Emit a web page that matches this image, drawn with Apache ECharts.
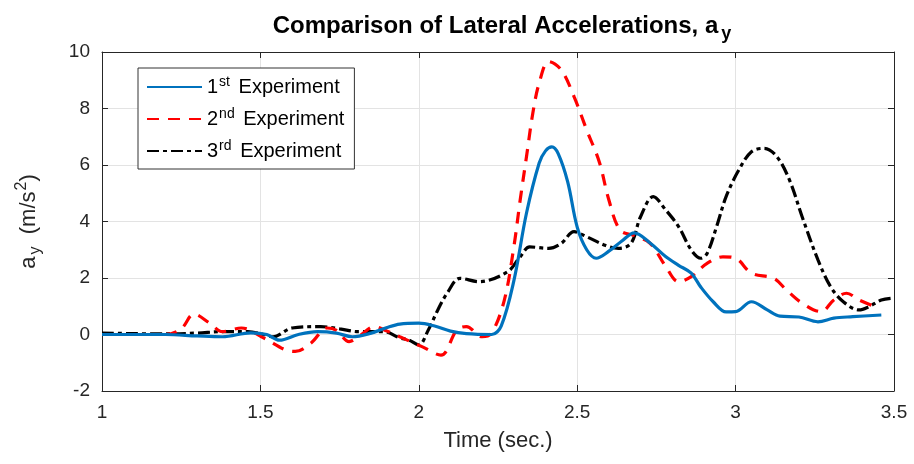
<!DOCTYPE html>
<html style="height: 100%">
<head>
  <meta charset="utf-8">
  <title>Lateral accelerations</title>
  <script src="https://cdn.jsdelivr.net/npm/echarts@6.0.0/dist/echarts.min.js"></script>
</head>
<body style="margin:0;height:100%;background:#fff">
  <div id="main" style="width:914px;height:464px"></div>
  <script>
    // values
    var exp1Time = [1.0, 1.2, 1.3, 1.38, 1.47, 1.52, 1.56, 1.62, 1.68, 1.74, 1.79, 1.85, 1.9, 1.94, 2.0, 2.05, 2.1, 2.15, 2.23, 2.26, 2.3, 2.34, 2.38, 2.4, 2.42, 2.44, 2.47, 2.5, 2.53, 2.56, 2.6, 2.64, 2.68, 2.73, 2.78, 2.82, 2.86, 2.89, 2.93, 2.97, 3.0, 3.05, 3.1, 3.14, 3.2, 3.26, 3.31, 3.37, 3.46];
    var exp1Acc = [0, 0, -0.05, -0.08, 0.06, 0, -0.2, 0, 0.1, 0.05, -0.08, 0.05, 0.25, 0.37, 0.4, 0.3, 0.12, 0.03, 0, 0.3, 1.9, 4.3, 6.07, 6.5, 6.64, 6.4, 5.4, 3.8, 3.0, 2.7, 2.95, 3.3, 3.6, 3.24, 2.75, 2.45, 2.17, 1.68, 1.15, 0.8, 0.81, 1.16, 0.87, 0.65, 0.62, 0.45, 0.58, 0.63, 0.69];

    var exp2Time = [1.0, 1.2, 1.25, 1.29, 1.34, 1.38, 1.44, 1.51, 1.58, 1.61, 1.66, 1.71, 1.74, 1.78, 1.81, 1.86, 1.9, 1.94, 2.01, 2.07, 2.12, 2.15, 2.2, 2.23, 2.27, 2.3, 2.32, 2.34, 2.36, 2.38, 2.41, 2.45, 2.49, 2.53, 2.57, 2.6, 2.635, 2.68, 2.73, 2.78, 2.82, 2.86, 2.91, 2.96, 3.0, 3.05, 3.12, 3.16, 3.21, 3.27, 3.31, 3.35, 3.39, 3.45];
    var exp2Acc = [0, 0, 0.2, 0.72, 0.4, 0.1, 0.23, -0.12, -0.55, -0.6, -0.3, 0.23, 0.15, -0.25, -0.08, 0.28, 0.12, -0.08, -0.43, -0.73, 0.16, 0.28, -0.08, 0.05, 1.22, 3.1, 4.76, 6.3, 7.84, 8.9, 9.66, 9.36, 8.42, 7.24, 6.1, 4.76, 3.7, 3.5, 3.23, 2.4, 1.87, 2.05, 2.52, 2.75, 2.7, 2.17, 1.99, 1.58, 1.11, 0.81, 1.22, 1.46, 1.22, 0.94];

    var exp3Time = [1.0, 1.2, 1.3, 1.38, 1.46, 1.51, 1.54, 1.6, 1.69, 1.75, 1.81, 1.89, 1.94, 1.97, 2.0, 2.03, 2.06, 2.09, 2.13, 2.19, 2.28, 2.32, 2.35, 2.41, 2.45, 2.49, 2.53, 2.59, 2.63, 2.67, 2.7, 2.74, 2.78, 2.82, 2.86, 2.89, 2.91, 2.94, 2.97, 3.01, 3.05, 3.09, 3.13, 3.17, 3.21, 3.26, 3.3, 3.34, 3.39, 3.42, 3.46, 3.5];
    var exp3Acc = [0.05, 0.02, 0.05, 0.1, 0.1, 0, -0.08, 0.23, 0.28, 0.2, 0.1, 0.1, -0.12, -0.2, -0.37, 0.16, 0.87, 1.47, 1.99, 1.87, 2.22, 2.75, 3.1, 3.05, 3.23, 3.64, 3.46, 3.15, 3.05, 3.23, 4.17, 4.88, 4.4, 3.82, 2.99, 2.7, 2.87, 3.82, 4.88, 5.82, 6.47, 6.59, 6.3, 5.47, 4.17, 2.64, 1.69, 1.16, 0.87, 0.98, 1.22, 1.29];

    var seriesNames = ['1{sup|st} Experiment', '2{sup|nd} Experiment', '3{sup|rd} Experiment'];
    var seriesColors = ['#0072BD', '#FF0000', '#000000'];
    var seriesDash = ['solid', [12, 9], [12, 4, 4, 4]];

    function pairs(t, v) {
      return t.map(function (x, i) { return [x, v[i]]; });
    }
    var allData = [pairs(exp1Time, exp1Acc), pairs(exp2Time, exp2Acc), pairs(exp3Time, exp3Acc)];

    var font = '"Liberation Sans", Arial, sans-serif';
    var ink = '#262626';

    var chart = echarts.init(document.getElementById('main'));

    chart.setOption({
      animation: false,
      textStyle: { fontFamily: font },
      title: {
        text: 'Comparison of Lateral Accelerations, a{sub|y}',
        left: 497,
        textAlign: 'center',
        top: 5,
        textStyle: {
          fontSize: 24, fontWeight: 'bold', color: '#000', fontFamily: font,
          rich: {
            sub: { fontSize: 18, fontWeight: 'bold', color: '#000', fontFamily: font, padding: [15, 0, 0, 3] }
          }
        }
      },
      legend: {
        orient: 'vertical',
        left: 138,
        top: 68,
        padding: [7, 10, 6, 8],
        itemWidth: 55,
        itemHeight: 14,
        itemGap: 8,
        backgroundColor: '#fff',
        borderColor: '#333',
        borderWidth: 1,
        borderRadius: 0,
        itemStyle: { opacity: 0 },
        textStyle: {
          fontSize: 20, color: '#000', fontFamily: font, lineHeight: 24,
          rich: {
            sup: { fontSize: 14, color: '#000', fontFamily: font, verticalAlign: 'top', lineHeight: 24, padding: [0, 3, 0, 1] }
          }
        }
      },
      grid: { left: 102, top: 52, right: 20, bottom: 73 },
      xAxis: [{
        type: 'value', min: 1, max: 3.5, interval: 0.5,
        name: 'Time (sec.)', nameLocation: 'middle', nameGap: 39,
        nameTextStyle: { fontSize: 22, color: ink, fontFamily: font },
        axisLine: { show: true, onZero: false, lineStyle: { color: ink, width: 1 } },
        axisTick: { inside: true, length: 6, lineStyle: { color: ink } },
        axisLabel: { fontSize: 19, color: ink, margin: 12, formatter: function (v) { return String(v); } },
        splitLine: { show: true, lineStyle: { color: '#e3e3e3', width: 1 } }
      }, {
        type: 'value', min: 1, max: 3.5, interval: 0.5, position: 'top',
        axisLine: { show: true, onZero: false, lineStyle: { color: ink, width: 1 } },
        axisTick: { inside: true, length: 6, lineStyle: { color: ink } },
        axisLabel: { show: false }, splitLine: { show: false }
      }],
      yAxis: [{
        type: 'value', min: -2, max: 10, interval: 2,
        name: 'a{sub|y}  (m/s{sup|2})', nameLocation: 'middle', nameGap: 58,
        nameTextStyle: {
          fontSize: 22, color: ink, fontFamily: font,
          rich: {
            sub: { fontSize: 16, color: ink, fontFamily: font, padding: [14, 0, 0, 2] },
            sup: { fontSize: 16, color: ink, fontFamily: font, verticalAlign: 'top', padding: [0, 0, 0, 1] }
          }
        },
        axisLine: { show: true, onZero: false, lineStyle: { color: ink, width: 1 } },
        axisTick: { inside: true, length: 6, lineStyle: { color: ink } },
        axisLabel: { fontSize: 19, color: ink, margin: 12 },
        splitLine: { show: true, lineStyle: { color: '#e3e3e3', width: 1 } }
      }, {
        type: 'value', min: -2, max: 10, interval: 2, position: 'right',
        axisLine: { show: true, onZero: false, lineStyle: { color: ink, width: 1 } },
        axisTick: { inside: true, length: 6, lineStyle: { color: ink } },
        axisLabel: { show: false }, splitLine: { show: false }
      }],
      series: allData.map(function (d, i) {
        return {
          name: seriesNames[i],
          type: 'line',
          data: d,
          smooth: 0.35,
          symbol: 'none',
          color: seriesColors[i],
          lineStyle: { color: seriesColors[i], width: 3.2, type: seriesDash[i] },
          z: 3 - i
        };
      })
    });
  </script>
</body>
</html>
